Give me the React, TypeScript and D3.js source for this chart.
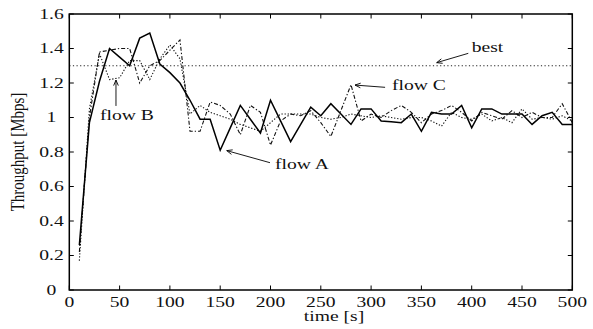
import React from "react";
import * as d3 from "d3";

const times = [10,20,30,40,50,60,70,80,90,100,110,120,130,140,150,160,170,180,190,200,210,220,230,240,250,260,270,280,290,300,310,320,330,340,350,360,370,380,390,400,410,420,430,440,450,460,470,480,490,500];
const flowA = [0.26,0.97,1.21,1.40,1.35,1.30,1.46,1.49,1.31,1.26,1.20,1.10,0.99,0.99,0.81,0.94,1.07,0.99,0.91,1.10,0.98,0.86,0.96,1.06,1.01,1.08,1.02,0.96,1.05,1.05,0.98,0.975,0.97,1.02,0.92,1.03,1.02,1.02,1.07,0.94,1.05,1.05,1.02,1.02,1.02,0.96,1.01,1.03,0.96,0.96];
const flowB = [0.17,1.05,1.37,1.22,1.23,1.33,1.33,1.22,1.34,1.42,1.34,1.02,1.07,1.03,1.01,0.99,0.96,0.94,0.92,0.97,1.02,1.02,1.02,1.02,1.00,0.99,1.00,1.02,1.01,1.00,1.01,1.00,0.99,1.00,1.00,0.98,0.95,1.03,1.00,0.99,1.02,0.98,1.00,0.97,1.05,0.99,1.00,0.99,1.01,0.98];
const flowC = [0.22,1.00,1.38,1.39,1.40,1.40,1.20,1.30,1.33,1.39,1.45,0.92,0.92,1.09,1.07,1.02,0.90,1.07,1.03,0.84,0.98,1.02,1.01,1.04,0.97,0.89,1.04,1.19,0.98,1.02,1.00,1.04,1.07,1.03,0.97,1.02,1.04,1.07,1.03,0.98,1.03,1.01,0.99,1.04,1.00,1.03,1.00,1.00,1.08,0.97];
const bestValue = 1.3;
const xTicks = [0,50,100,150,200,250,300,350,400,450,500];
const yTicks = [0,0.2,0.4,0.6,0.8,1,1.2,1.4,1.6];
const yTickLabels = ["0","0.2","0.4","0.6","0.8","1","1.2","1.4","1.6"];

// annotations in data units: [label, textT, textV, fromT, fromV, toT, toV]
const annotations: [string, number, number, number, number, number, number][] = [
  ["flow A", 204.4, 0.70, 199.5, 0.738, 156.5, 0.808],
  ["flow B", 30.5, 0.983, 46.4, 1.067, 46.4, 1.217],
  ["flow C", 320.8, 1.157, 313.9, 1.175, 284, 1.188],
  ["best", 400, 1.378, 396.6, 1.372, 365.2, 1.318],
];

const W = 593, H = 329;
const SX = 1.4;
const FONT = "Liberation Serif";

function T({ x, y, anchor = "start", children, size = 14 }: any) {
  return (
    <text
      transform={`translate(${x},${y}) scale(${SX},1)`}
      textAnchor={anchor}
      style={{ fontFamily: FONT, fontSize: size }}
      fill="#111"
    >
      {children}
    </text>
  );
}

export default function App() {
  const x = d3.scaleLinear().domain([0, 500]).range([69.3, 572.3]);
  const y = d3.scaleLinear().domain([0, 1.6]).range([290, 14]);
  const line = d3
    .line<number>()
    .x((_, i) => x(times[i]))
    .y((d) => y(d));
  const [x0, x1] = x.range();
  const [y0, y1] = y.range();
  const tl = 4.5;

  const arrowHead = (fx: number, fy: number, tx: number, ty: number) => {
    const ang = Math.atan2(ty - fy, tx - fx);
    const L = 6, a = 0.4;
    const p1 = [tx - L * Math.cos(ang - a), ty - L * Math.sin(ang - a)];
    const p2 = [tx - L * Math.cos(ang + a), ty - L * Math.sin(ang + a)];
    return `M${p1[0]},${p1[1]}L${tx},${ty}L${p2[0]},${p2[1]}`;
  };

  return (
    <svg width={W} height={H} style={{ position: "absolute", left: 0, top: 0, background: "#fff" }}>
      <rect x={0} y={0} width={W} height={H} fill="#fff" />
      <line x1={x(0)} x2={x(500)} y1={y(bestValue)} y2={y(bestValue)} stroke="#222" strokeWidth={1} strokeDasharray="1.2,2.4" />
      <path d={line(flowB) || ""} fill="none" stroke="#111" strokeWidth={1.1} strokeDasharray="1.3,1.8" />
      <path d={line(flowC) || ""} fill="none" stroke="#111" strokeWidth={1.1} strokeDasharray="4,2,1.3,2" />
      <path d={line(flowA) || ""} fill="none" stroke="#000" strokeWidth={1.5} />
      <rect x={x0} y={y1} width={x1 - x0} height={y0 - y1} fill="none" stroke="#000" strokeWidth={1.5} />
      {xTicks.map((t) => (
        <g key={"xt" + t}>
          <line x1={x(t)} x2={x(t)} y1={y0} y2={y0 - tl} stroke="#000" strokeWidth={1} />
          <line x1={x(t)} x2={x(t)} y1={y1} y2={y1 + tl} stroke="#000" strokeWidth={1} />
          <T x={x(t)} y={306.5} anchor="middle">{String(t)}</T>
        </g>
      ))}
      {yTicks.map((v, i) => (
        <g key={"yt" + v}>
          <line x1={x0} x2={x0 + tl} y1={y(v)} y2={y(v)} stroke="#000" strokeWidth={1} />
          <line x1={x1} x2={x1 - tl} y1={y(v)} y2={y(v)} stroke="#000" strokeWidth={1} />
          <T x={51.5} y={y(v) + 4.8} anchor="middle">{yTickLabels[i]}</T>
        </g>
      ))}
      <T x={334} y={321} anchor="middle">time [s]</T>
      <text
        transform={`translate(24,152) scale(1.2,1) rotate(-90)`}
        textAnchor="middle"
        style={{ fontFamily: FONT, fontSize: 15 }}
        fill="#111"
      >
        Throughput [Mbps]
      </text>
      {annotations.map(([lab, tt, tv, ft, fv, at, av]) => (
        <g key={lab}>
          <line x1={x(ft)} y1={y(fv)} x2={x(at)} y2={y(av)} stroke="#000" strokeWidth={0.9} />
          <path d={arrowHead(x(ft), y(fv), x(at), y(av))} fill="none" stroke="#000" strokeWidth={0.9} />
          <T x={x(tt)} y={y(tv)}>{lab}</T>
        </g>
      ))}
    </svg>
  );
}
